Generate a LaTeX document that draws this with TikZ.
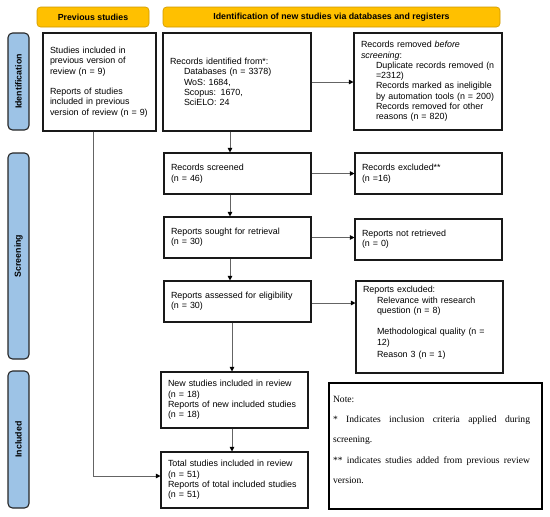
\documentclass[tikz,border=0pt]{standalone}
\usepackage{fontspec}
\setmainfont{Liberation Sans}
\newfontfamily\notefont{Liberation Serif}
\usetikzlibrary{arrows.meta,calc}
\definecolor{hdr}{RGB}{255,192,0}
\definecolor{hdrline}{RGB}{205,152,0}
\definecolor{side}{RGB}{157,195,230}
\definecolor{conn}{RGB}{100,100,100}
\begin{document}
\begin{tikzpicture}[x=1pt,y=-1pt,
  box/.style={draw=black!90, line width=1.1pt, inner xsep=0pt, inner ysep=2pt,
    align=left, font=\fontsize{8.9}{10.3}\selectfont},
  hdrbox/.style={draw=hdrline, line width=0.6pt, fill=hdr, rounded corners=3.5pt,
    minimum height=20pt, font=\bfseries\fontsize{8.8}{10}\selectfont},
  sidebar/.style={draw=black!85, line width=1.1pt, fill=side, rounded corners=4.5pt,
    minimum width=21pt},
  sidetext/.style={rotate=90, font=\bfseries\fontsize{8.8}{10}\selectfont},
  arr/.style={draw=conn, line width=0.8pt, -{Triangle[length=4.5pt,width=4.5pt,color=black]}}]
\useasboundingbox (0,0) rectangle (550,517);

% headers
\node[hdrbox, minimum width=112pt] (hprev) at (93,17) {Previous studies};
\node[hdrbox, minimum width=337pt] (hnew) at (331.5,17) {Identification of new studies via databases and registers};

% side bars
\node[sidebar, minimum height=97pt] (sid) at (18.5,81.5) {};
\node[sidetext] (sidt) at (sid) {Identification};
\node[sidebar, minimum height=206pt] (sscr) at (18.5,256) {};
\node[sidetext] (sscrt) at (sscr) {Screening};
\node[sidebar, minimum height=137pt] (sinc) at (18.5,439.5) {};
\node[sidetext] (sinct) at (sinc) {Included};

% boxes
\node[box, minimum width=113pt, minimum height=98pt, text width=99pt] (prev) at (99.5,82)
 {Studies included in\\previous version of\\review (n = 9)\\[10pt]Reports of studies\\included in previous\\version of review (n = 9)};

\node[box, minimum width=148pt, minimum height=98pt, text width=134pt] (ident) at (237,82)
 {Records identified from*:\\
  \hspace*{14pt}Databases (n = 3378)\\
  \hspace*{14pt}WoS: 1684,\\
  \hspace*{14pt}Scopus: 1670,\\
  \hspace*{14pt}SciELO: 24};

\node[box, minimum width=148pt, minimum height=97pt, text width=134pt] (removed) at (428,81.5)
 {Records removed \textit{before}\\
  \textit{screening}:\\
  \hspace*{15pt}Duplicate records removed (n\\
  \hspace*{15pt}=2312)\\
  \hspace*{15pt}Records marked as ineligible\\
  \hspace*{15pt}by automation tools (n = 200)\\
  \hspace*{15pt}Records removed for other\\
  \hspace*{15pt}reasons (n = 820)};

\node[box, minimum width=147pt, minimum height=41pt, text width=133pt] (screened) at (237.5,173.5)
 {Records screened\\[1pt](n = 46)};
\node[box, minimum width=147pt, minimum height=41pt, text width=133pt] (excluded) at (428.5,173.5)
 {Records excluded**\\[1pt](n =16)};

\node[box, minimum width=147pt, minimum height=41pt, text width=133pt] (sought) at (237.5,237.5)
 {Reports sought for retrieval\\(n = 30)};
\node[box, minimum width=147pt, minimum height=41pt, text width=133pt] (notretr) at (428.5,239.5)
 {Reports not retrieved\\(n = 0)};

\node[box, minimum width=147pt, minimum height=41pt, text width=133pt] (assessed) at (237.5,301.5)
 {Reports assessed for eligibility\\(n = 30)};
\node[box, minimum width=147pt, minimum height=92pt, text width=133pt] (repexcl) at (429.5,327)
 {Reports excluded:\\
  \hspace*{14pt}Relevance with research\\
  \hspace*{14pt}question (n = 8)\\[11pt]
  \hspace*{14pt}Methodological quality (n =\\
  \hspace*{14pt}12)\\[2pt]
  \hspace*{14pt}Reason 3 (n = 1)\\
  \mbox{}};

\node[box, minimum width=147pt, minimum height=56pt, text width=133pt] (newst) at (234.5,400)
 {New studies included in review\\(n = 18)\\Reports of new included studies\\(n = 18)};
\node[box, minimum width=147pt, minimum height=56pt, text width=133pt] (total) at (234.5,480)
 {Total studies included in review\\(n = 51)\\Reports of total included studies\\(n = 51)};

% note
\node[draw=black, line width=1.3pt, minimum width=213pt, minimum height=126pt] (note) at (435.5,446) {};
\node[anchor=north west, inner sep=0pt, text width=197pt, align=justify,
  font=\notefont\fontsize{9.6}{20.3}\selectfont] (notetxt) at ($(note.north west)+(4.5,13.5)$)
 {\parindent=0pt Note:\par
  * Indicates inclusion criteria applied during\linebreak screening.\par
  ** indicates studies added from previous review\linebreak version.};

% connectors
\coordinate (ax) at (230,0);
\coordinate (bx) at (232,0);
\coordinate (vl) at (93,476);
\draw[arr] (ident.east) -- (ident.east -| removed.west);
\draw[arr] (screened.east) -- (screened.east -| excluded.west);
\draw[arr] (sought.east) -- (sought.east -| notretr.west);
\draw[arr] ($(assessed.east)+(0,1.5)$) -- ($(assessed.east -| repexcl.west)+(0,1.5)$);
\draw[arr] (ident.south -| ax) -- (screened.north -| ax);
\draw[arr] (screened.south -| ax) -- (sought.north -| ax);
\draw[arr] (sought.south -| ax) -- (assessed.north -| ax);
\draw[arr] (assessed.south -| bx) -- (newst.north -| bx);
\draw[arr] (newst.south -| bx) -- (total.north -| bx);
\draw[arr] (prev.south -| vl) -- (vl) -- (vl -| total.west);
\end{tikzpicture}
\end{document}
